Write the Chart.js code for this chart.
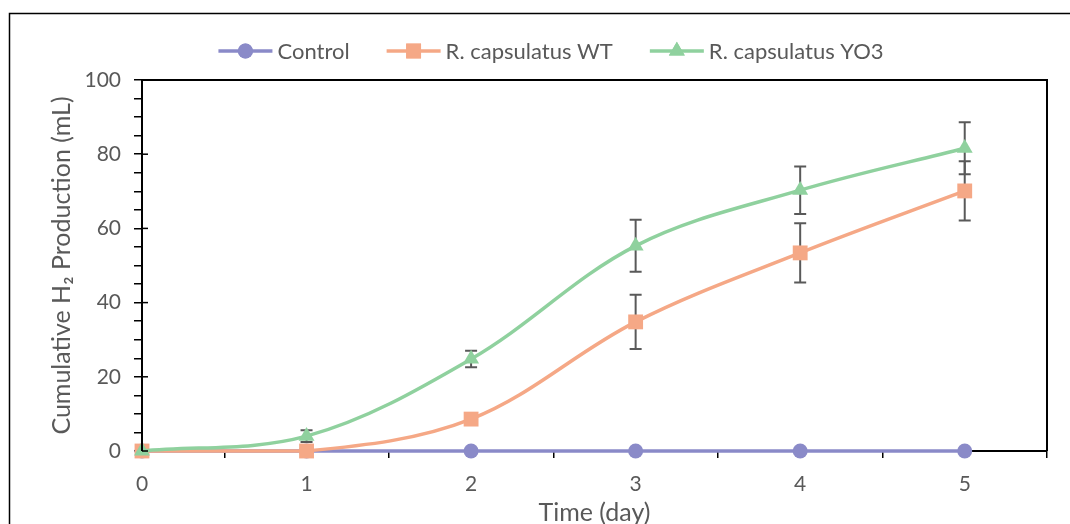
<!DOCTYPE html>
<html>
<head>
<meta charset="utf-8">
<script src="https://cdn.jsdelivr.net/npm/chart.js@4"></script>
<style>
	html, body { margin: 0; padding: 0; background: #fff; }
	#wrap { width: 1070px; height: 524px; position: relative; }
</style>
</head>
<body>
<div id="wrap"><canvas id="chart" width="1070" height="524"></canvas></div>
<script>
const days = [0, 1, 2, 3, 4, 5];
const seriesNames = ['Control', 'R. capsulatus WT', 'R. capsulatus YO3'];
const controlValues = [0, 0, 0, 0, 0, 0];
const controlErrors = [0, 0, 0, 0, 0, 0];
const wtValues = [0, 0, 8.6, 34.8, 53.4, 70.1];
const wtErrors = [0, 0, 0, 7.3, 8, 8];
const yo3Values = [0, 4.0, 24.8, 55.3, 70.3, 81.6];
const yo3Errors = [0, 1.6, 2.2, 7, 6.4, 7];
const yTicks = [0, 20, 40, 60, 80, 100];

const textColor = '#595959';
const fontFamily = 'Lato, "Open Sans", sans-serif';

const colors = ['#8a8ac8', '#f5a886', '#8fd19e'];
const styles = ['circle', 'rect', 'triangle'];
const radii = [7.5, 10.5, 9.2];

const toPoints = (vals) => days.map((d, i) => ({ x: d, y: vals[i] }));

// legend drawn by hand so the line+marker symbols and spacing match
const legendBox = {
	id: 'legendBox',
	afterDraw(chart) {
		const ctx = chart.ctx;
		ctx.save();
		ctx.font = '22px ' + fontFamily;
		const symW = 54, gap = 5, itemGap = 37, cy = 51;
		const widths = seriesNames.map(n => ctx.measureText(n).width);
		const total = widths.reduce((a, w) => a + symW + gap + w, 0) + itemGap * (seriesNames.length - 1);
		let x = 551 - total / 2;
		seriesNames.forEach((name, i) => {
			ctx.strokeStyle = colors[i];
			ctx.fillStyle = colors[i];
			ctx.lineWidth = 3.5;
			ctx.beginPath();
			ctx.moveTo(x, cy); ctx.lineTo(x + symW, cy);
			ctx.stroke();
			Chart.helpers.drawPoint(ctx, { pointStyle: styles[i], radius: radii[i], borderWidth: 0 }, x + symW / 2, cy);
			ctx.fill();
			ctx.fillStyle = textColor;
			ctx.textBaseline = 'middle';
			ctx.textAlign = 'left';
			ctx.fillText(name, x + symW + gap, cy + 1);
			x += symW + gap + widths[i] + itemGap;
		});
		ctx.restore();
	}
};

// error bars sit under the markers
const errorBars = {
	id: 'errorBars',
	beforeDatasetsDraw(chart) {
		const ctx = chart.ctx;
		const ys = chart.scales.y;
		ctx.save();
		ctx.strokeStyle = '#595959';
		ctx.lineWidth = 2;
		chart.data.datasets.forEach((ds, di) => {
			const meta = chart.getDatasetMeta(di);
			ds.errors.forEach((e, i) => {
				if (!e) return;
				const x = meta.data[i].x;
				const top = ys.getPixelForValue(ds.data[i].y + e);
				const bot = ys.getPixelForValue(ds.data[i].y - e);
				ctx.beginPath();
				ctx.moveTo(x, top); ctx.lineTo(x, bot);
				ctx.moveTo(x - 6, top); ctx.lineTo(x + 6, top);
				ctx.moveTo(x - 6, bot); ctx.lineTo(x + 6, bot);
				ctx.stroke();
			});
		});
		ctx.restore();
	}
};

const frame = {
	id: 'frame',
	beforeDraw(chart) {
		const ctx = chart.ctx;
		ctx.save();
		ctx.fillStyle = '#fff';
		ctx.fillRect(0, 0, chart.width, chart.height);
		ctx.strokeStyle = '#000';
		ctx.lineWidth = 1.5;
		ctx.strokeRect(9.5, 13.5, 1200, 700);
		ctx.restore();
	},
	afterDraw(chart) {
		const a = chart.chartArea;
		const ctx = chart.ctx;
		const ys = chart.scales.y;
		ctx.save();
		ctx.strokeStyle = '#000';
		ctx.lineWidth = 2;
		ctx.beginPath();
		ctx.moveTo(a.left, a.bottom); ctx.lineTo(a.left, a.top); ctx.lineTo(a.right, a.top); ctx.lineTo(a.right, a.bottom);
		ctx.stroke();
		// major y ticks cross the axis
		ctx.lineWidth = 1.5;
		yTicks.forEach(v => {
			const y = ys.getPixelForValue(v);
			ctx.beginPath();
			ctx.moveTo(a.left, y); ctx.lineTo(a.left + 6, y);
			ctx.stroke();
		});
		ctx.restore();
	}
};

const datasets = [
	{ values: controlValues, errors: controlErrors, order: 3 },
	{ values: wtValues, errors: wtErrors, order: 2 },
	{ values: yo3Values, errors: yo3Errors, order: 1 }
].map((s, i) => ({
	label: seriesNames[i],
	data: toPoints(s.values),
	errors: s.errors,
	order: s.order,
	clip: false,
	borderColor: colors[i],
	backgroundColor: colors[i],
	borderWidth: 3.5,
	pointStyle: styles[i],
	pointRadius: radii[i],
	pointBorderWidth: 0,
	tension: 0.35,
	fill: false
}));

new Chart(document.getElementById('chart'), {
	type: 'line',
	data: { datasets: datasets },
	plugins: [frame, errorBars, legendBox],
	options: {
		responsive: false,
		animation: false,
		devicePixelRatio: 1,
		layout: { padding: { left: 47, right: 23, top: 80, bottom: 0 } },
		plugins: {
			tooltip: { enabled: false },
			legend: { display: false }
		},
		scales: {
			x: {
				type: 'linear',
				min: 0,
				max: 5.5,
				border: { display: true, color: '#000', width: 2 },
				grid: {
					drawOnChartArea: false,
					tickLength: 7,
					lineWidth: 1.5,
					color: (c) => (c.tick && Number.isInteger(c.tick.value)) ? 'rgba(0,0,0,0)' : '#000'
				},
				ticks: {
					stepSize: 0.5,
					autoSkip: false,
					maxRotation: 0,
					color: textColor,
					padding: 14,
					font: { family: fontFamily, size: 21 },
					callback: (v) => Number.isInteger(v) ? String(v) : ''
				},
				title: {
					display: true,
					text: 'Time (day)',
					color: textColor,
					font: { family: fontFamily, size: 25 },
					padding: { top: 0, bottom: -4 }
				},
				afterFit(scale) { scale.height = 73; }
			},
			y: {
				min: 0,
				max: 100,
				border: { display: true, color: '#000', width: 2 },
				grid: {
					drawOnChartArea: false,
					tickLength: 8,
					lineWidth: 1.5,
					color: '#000'
				},
				ticks: {
					stepSize: 5,
					autoSkip: false,
					color: textColor,
					padding: 13,
					font: { family: fontFamily, size: 21 },
					callback: (v) => (v % 20 === 0) ? String(v) : ''
				},
				title: {
					display: true,
					text: 'Cumulative H\u2082 Production (mL)',
					color: textColor,
					font: { family: fontFamily, size: 25 },
					padding: { top: 0, bottom: 0 }
				},
				afterFit(scale) { scale.width = 95; }
			}
		}
	}
});
</script>
</body>
</html>
